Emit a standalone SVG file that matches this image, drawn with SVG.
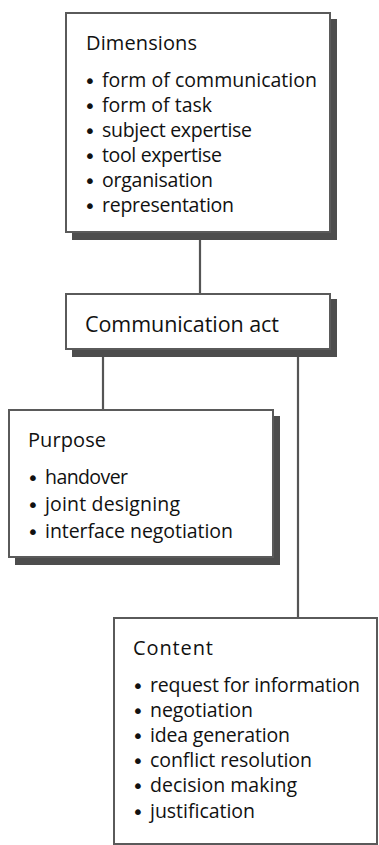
<svg xmlns="http://www.w3.org/2000/svg" width="379" height="845" viewBox="0 0 379 845">
<style>
.shadow{fill:#4d4d4d}
.box{fill:#fff;stroke:#5a5a5a;stroke-width:2}
.conn line{stroke:#555;stroke-width:2.2}
text{font-family:"Open Sans","Noto Sans",sans-serif;fill:#111}
.h{font-size:20px}
.i{font-size:19.5px}
.b{font-family:"DejaVu Sans",sans-serif;font-size:20px}
.ca{font-size:21.5px}
</style>
<rect width="379" height="845" fill="#fff"/>
<g id="connectors" class="conn">
<line x1="200" y1="232" x2="200" y2="294"/>
<line x1="103" y1="349" x2="103" y2="410"/>
<line x1="298" y1="349" x2="298" y2="618"/>
</g>
<g id="dimensions">
<rect class="shadow" x="72" y="19" width="265" height="221"/>
<rect class="box" x="66" y="13" width="264" height="219"/>
<text class="h" x="86" y="50" textLength="111">Dimensions</text>
<text class="i" y="87"><tspan class="b" x="84" dy="1">•</tspan><tspan x="102" dy="-1" textLength="215">form of communication</tspan></text>
<text class="i" y="112"><tspan class="b" x="84" dy="1">•</tspan><tspan x="102" dy="-1" textLength="110">form of task</tspan></text>
<text class="i" y="137"><tspan class="b" x="84" dy="1">•</tspan><tspan x="102" dy="-1" textLength="150">subject expertise</tspan></text>
<text class="i" y="162"><tspan class="b" x="84" dy="1">•</tspan><tspan x="102" dy="-1" textLength="120">tool expertise</tspan></text>
<text class="i" y="187"><tspan class="b" x="84" dy="1">•</tspan><tspan x="102" dy="-1" textLength="111">organisation</tspan></text>
<text class="i" y="212"><tspan class="b" x="84" dy="1">•</tspan><tspan x="102" dy="-1" textLength="132">representation</tspan></text>
</g>
<g id="communication-act">
<rect class="shadow" x="72" y="299" width="265" height="58"/>
<rect class="box" x="66" y="294" width="264" height="55"/>
<text class="ca" x="85" y="332" textLength="194">Communication act</text>
</g>
<g id="purpose">
<rect class="shadow" x="15" y="416" width="265" height="149"/>
<rect class="box" x="9" y="410" width="264" height="147"/>
<text class="h" x="28" y="447" textLength="78">Purpose</text>
<text class="i" y="484"><tspan class="b" x="27" dy="1">•</tspan><tspan x="45" dy="-1" textLength="83">handover</tspan></text>
<text class="i" y="511"><tspan class="b" x="27" dy="1">•</tspan><tspan x="45" dy="-1" textLength="135">joint designing</tspan></text>
<text class="i" y="538"><tspan class="b" x="27" dy="1">•</tspan><tspan x="45" dy="-1" textLength="188">interface negotiation</tspan></text>
</g>
<g id="content">
<rect class="box" x="114" y="618" width="263" height="226"/>
<text class="h" x="133" y="655" textLength="80">Content</text>
<text class="i" y="692"><tspan class="b" x="132" dy="1">•</tspan><tspan x="150" dy="-1" textLength="210">request for information</tspan></text>
<text class="i" y="717"><tspan class="b" x="132" dy="1">•</tspan><tspan x="150" dy="-1" textLength="103">negotiation</tspan></text>
<text class="i" y="742"><tspan class="b" x="132" dy="1">•</tspan><tspan x="150" dy="-1" textLength="140">idea generation</tspan></text>
<text class="i" y="767"><tspan class="b" x="132" dy="1">•</tspan><tspan x="150" dy="-1" textLength="162">conflict resolution</tspan></text>
<text class="i" y="792"><tspan class="b" x="132" dy="1">•</tspan><tspan x="150" dy="-1" textLength="147">decision making</tspan></text>
<text class="i" y="818"><tspan class="b" x="132" dy="1">•</tspan><tspan x="150" dy="-1" textLength="105">justification</tspan></text>
</g>
</svg>
